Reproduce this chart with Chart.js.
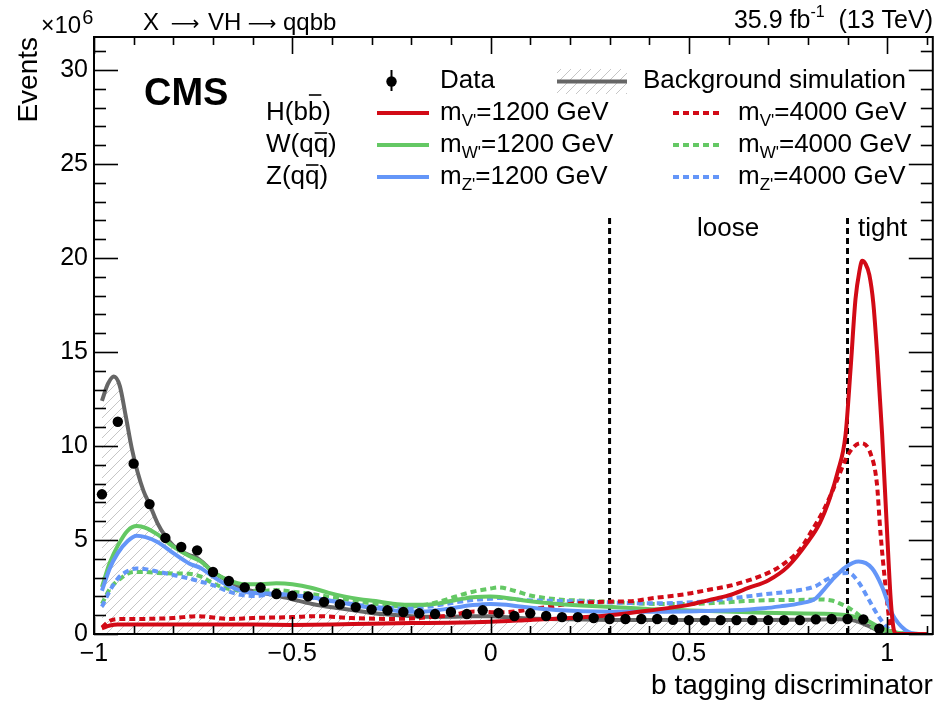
<!DOCTYPE html>
<html><head><meta charset="utf-8">
<script src="https://cdn.jsdelivr.net/npm/chart.js@4.4.0/dist/chart.umd.min.js"></script>
<style>html,body{margin:0;padding:0;background:#fff;overflow:hidden}</style>
</head><body>
<canvas id="c" width="938" height="701"></canvas>
<script>
const F = '"Liberation Sans", Arial, Helvetica, sans-serif';
const FA = '"DejaVu Sans", sans-serif';

// ---- Data (observed events, x = bin centres) ----
const dataX = [-0.98,-0.94,-0.90,-0.86,-0.82,-0.78,-0.74,-0.70,-0.66,-0.62,-0.58,-0.54,-0.50,-0.46,-0.42,-0.38,-0.34,-0.30,-0.26,-0.22,-0.18,-0.14,-0.10,-0.06,-0.02,0.02,0.06,0.10,0.14,0.18,0.22,0.26,0.30,0.34,0.38,0.42,0.46,0.50,0.54,0.58,0.62,0.66,0.70,0.74,0.78,0.82,0.86,0.90,0.94,0.98];
const dataY = [7.43,11.29,9.06,6.91,5.11,4.63,4.45,3.30,2.82,2.48,2.47,2.13,2.04,2.00,1.71,1.58,1.43,1.31,1.26,1.17,1.10,1.06,1.17,1.06,1.26,1.12,0.96,1.10,0.96,0.90,0.90,0.85,0.80,0.80,0.80,0.80,0.76,0.74,0.73,0.74,0.74,0.74,0.74,0.74,0.74,0.78,0.80,0.80,0.78,0.28];

// ---- Background simulation ----
const bkgX = [-0.98,-0.965,-0.95,-0.935,-0.92,-0.905,-0.89,-0.875,-0.86,-0.84,-0.82,-0.80,-0.78,-0.76,-0.74,-0.72,-0.70,-0.66,-0.62,-0.58,-0.54,-0.50,-0.45,-0.40,-0.35,-0.30,-0.25,-0.20,-0.15,-0.10,-0.05,0.0,0.05,0.10,0.20,0.30,0.40,0.50,0.60,0.70,0.80,0.88,0.92,0.95,0.98,1.00,1.05];
const bkgY = [12.4,13.3,13.7,13.2,11.6,9.9,8.6,7.6,6.9,5.9,5.2,4.7,4.4,4.2,4.05,3.7,3.3,2.8,2.4,2.2,2.05,1.85,1.6,1.42,1.28,1.12,1.02,0.95,0.92,0.92,0.95,0.95,0.88,0.82,0.78,0.75,0.74,0.74,0.74,0.74,0.76,0.78,0.7,0.45,0.15,0.02,0];

// ---- H(bb) signals ----
const hb1200X = [-0.98,-0.96,-0.94,-0.9,-0.8,-0.7,-0.6,-0.5,-0.4,-0.3,-0.2,-0.1,0.0,0.1,0.2,0.3,0.4,0.5,0.55,0.6,0.65,0.7,0.75,0.8,0.83,0.855,0.875,0.895,0.908,0.92,0.93,0.937,0.945,0.955,0.965,0.975,0.987,1.0,1.009,1.017,1.025,1.1];
const hb1200Y = [0.3,0.45,0.5,0.5,0.5,0.5,0.5,0.48,0.5,0.55,0.58,0.6,0.65,0.75,0.85,1.0,1.25,1.55,1.8,2.05,2.45,2.85,3.6,4.9,5.9,7.2,8.6,10.6,14.2,17.8,19.3,19.85,19.7,19.1,17.6,14.8,10.7,5.3,1.8,0.2,0,0];
const hb4000X = [-0.98,-0.96,-0.93,-0.9,-0.8,-0.74,-0.66,-0.6,-0.5,-0.44,-0.35,-0.25,-0.15,-0.1,-0.04,0.02,0.06,0.12,0.2,0.3,0.35,0.4,0.5,0.55,0.6,0.65,0.7,0.73,0.78,0.81,0.84,0.87,0.903,0.933,0.958,0.974,0.983,0.995,1.008,1.02,1.1];
const hb4000Y = [0.35,0.7,0.8,0.8,0.85,0.95,0.8,0.85,0.9,0.95,0.85,0.8,0.9,1.0,1.2,1.15,1.2,1.37,1.6,1.72,1.74,1.88,2.15,2.35,2.55,2.85,3.25,3.6,4.5,5.5,6.6,8.0,9.6,10.15,9.6,8.0,5.4,2.7,0.4,0,0];

// ---- W(qq) signals ----
const wq1200X = [-0.98,-0.96,-0.94,-0.915,-0.892,-0.87,-0.84,-0.80,-0.76,-0.73,-0.70,-0.66,-0.62,-0.58,-0.54,-0.50,-0.45,-0.41,-0.37,-0.33,-0.29,-0.25,-0.21,-0.17,-0.13,-0.09,-0.045,0.0,0.04,0.08,0.17,0.3,0.42,0.53,0.69,0.86,0.9,0.946,0.987,1.03,1.1];
const wq1200Y = [2.5,3.8,4.7,5.5,5.74,5.65,5.3,4.65,4.15,3.85,3.3,2.85,2.65,2.65,2.7,2.65,2.45,2.2,2.0,1.85,1.75,1.62,1.55,1.55,1.63,1.8,1.95,2.0,1.92,1.8,1.6,1.45,1.31,1.24,1.13,1.06,1.0,0.74,0.3,0.05,0];
const wq4000X = [-0.98,-0.96,-0.93,-0.9,-0.87,-0.84,-0.80,-0.76,-0.73,-0.70,-0.67,-0.62,-0.58,-0.54,-0.50,-0.46,-0.42,-0.38,-0.34,-0.30,-0.25,-0.21,-0.17,-0.13,-0.09,-0.045,0.0,0.02,0.06,0.1,0.17,0.25,0.33,0.42,0.5,0.58,0.66,0.74,0.8,0.83,0.86,0.88,0.91,0.94,0.96,0.99,1.02,1.1];
const wq4000Y = [1.6,2.4,3.0,3.3,3.3,3.25,3.22,3.2,3.05,2.7,2.45,2.3,2.3,2.34,2.25,2.15,2.02,1.9,1.75,1.63,1.52,1.45,1.54,1.72,1.98,2.25,2.42,2.48,2.3,2.05,1.84,1.76,1.67,1.6,1.6,1.67,1.77,1.81,1.82,1.84,1.78,1.63,1.3,0.8,0.42,0.08,0,0];

// ---- Z(qq) signals ----
const zq1200X = [-0.98,-0.96,-0.94,-0.915,-0.892,-0.87,-0.84,-0.80,-0.76,-0.73,-0.70,-0.66,-0.62,-0.58,-0.54,-0.50,-0.46,-0.41,-0.37,-0.33,-0.29,-0.25,-0.21,-0.17,-0.13,-0.09,-0.045,0.0,0.04,0.08,0.165,0.3,0.42,0.53,0.61,0.69,0.73,0.78,0.82,0.84,0.861,0.895,0.928,0.962,0.987,1.012,1.046,1.08,1.1];
const zq1200Y = [2.3,3.5,4.3,4.95,5.23,5.15,4.9,4.3,3.75,3.5,3.05,2.55,2.25,2.16,2.14,2.07,1.98,1.8,1.65,1.49,1.37,1.27,1.19,1.2,1.28,1.4,1.54,1.6,1.55,1.45,1.28,1.19,1.19,1.22,1.26,1.37,1.47,1.63,1.9,2.35,2.87,3.55,3.85,3.49,2.52,1.1,0.21,0,0];
const zq4000X = [-0.98,-0.96,-0.94,-0.915,-0.892,-0.87,-0.84,-0.80,-0.76,-0.73,-0.70,-0.67,-0.63,-0.59,-0.55,-0.50,-0.46,-0.42,-0.38,-0.34,-0.30,-0.25,-0.21,-0.17,-0.13,-0.09,-0.045,0.0,0.02,0.08,0.165,0.25,0.33,0.42,0.53,0.61,0.69,0.78,0.82,0.845,0.878,0.903,0.928,0.953,0.978,1.003,1.03,1.1];
const zq4000Y = [1.45,2.3,2.95,3.35,3.49,3.45,3.32,3.14,2.95,2.78,2.6,2.34,2.08,2.02,2.12,2.05,1.97,1.8,1.7,1.57,1.45,1.38,1.37,1.42,1.54,1.68,1.81,1.88,1.92,1.81,1.76,1.72,1.66,1.63,1.72,1.9,2.11,2.34,2.55,2.87,3.2,3.25,2.75,1.85,0.95,0.28,0.05,0];

// ---- Working-point cuts ----
const cutValues = [0.3, 0.9];
const cutTop = 22.2;

// ---- Axis ticks ----
const xMajorTicks = [-1, -0.5, 0, 0.5, 1];
const yMajorTicks = [0, 5, 10, 15, 20, 25, 30];

const RED = '#d20a16', GREEN = '#64c864', BLUE = '#6496f8', GRAY = '#666666';

const pts = (xs, ys) => xs.map((x, i) => ({x, y: ys[i]}));

const canvas = document.getElementById('c');
const ctx = canvas.getContext('2d');

// hatch pattern for the background simulation
const hatch = (() => {
  const tc = document.createElement('canvas'); tc.width = 10; tc.height = 10;
  const g = tc.getContext('2d');
  g.strokeStyle = '#c6c6c6'; g.lineWidth = 1;
  g.beginPath();
  g.moveTo(0, 10); g.lineTo(10, 0);
  g.moveTo(-1, 1); g.lineTo(1, -1);
  g.moveTo(9, 11); g.lineTo(11, 9);
  g.stroke();
  return ctx.createPattern(tc, 'repeat');
})();

const lineDs = (label, xs, ys, color, dashed, order) => ({
  label, data: pts(xs, ys), borderColor: color, borderWidth: 4, pointRadius: 0,
  borderDash: dashed ? [6, 4] : [], fill: false, cubicInterpolationMode: 'monotone', order
});

const datasets = [
  { label: 'Data', data: pts(dataX, dataY), showLine: false, pointRadius: 5.2, pointHoverRadius: 5.2,
    pointBackgroundColor: '#000', pointBorderColor: '#000', pointBorderWidth: 0, order: 0 },
  lineDs("H 1200", hb1200X, hb1200Y, RED, false, 1),
  lineDs("Z 1200", zq1200X, zq1200Y, BLUE, false, 2),
  lineDs("W 1200", wq1200X, wq1200Y, GREEN, false, 3),
  lineDs("H 4000", hb4000X, hb4000Y, RED, true, 4),
  lineDs("Z 4000", zq4000X, zq4000Y, BLUE, true, 5),
  lineDs("W 4000", wq4000X, wq4000Y, GREEN, true, 6),
  ...cutValues.map(c => ({ label: 'cut', data: [{x: c, y: 0}, {x: c, y: cutTop}], borderColor: '#000',
    borderWidth: 3, borderDash: [6, 4], pointRadius: 0, fill: false, order: 7 })),
  { label: 'Background simulation', data: pts(bkgX, bkgY), borderColor: GRAY, borderWidth: 4,
    backgroundColor: hatch, fill: 'origin', pointRadius: 0, cubicInterpolationMode: 'monotone', order: 8 }
];

const fmt = v => (v < 0 ? '\u2212' + Math.abs(v) : String(v));

function seg(c, x1, y1, x2, y2) { c.beginPath(); c.moveTo(x1, y1); c.lineTo(x2, y2); c.stroke(); }

const rootAxes = {
  id: 'rootAxes',
  afterDatasetsDraw(chart) {
    const {ctx: c, chartArea: a, scales: {x, y}} = chart;
    c.save();
    c.strokeStyle = '#000';
    c.lineWidth = 2;
    c.strokeRect(a.left, a.top, a.right - a.left, a.bottom - a.top);
    c.lineWidth = 1.6;
    for (let i = 0; i <= 21; i++) {
      const v = -1 + i * 0.1;
      const px = Math.round(x.getPixelForValue(v)) + 0.5;
      const major = xMajorTicks.some(m => Math.abs(m - v) < 1e-6);
      const L = major ? 17 : 8;
      seg(c, px, a.bottom, px, a.bottom - L);
      seg(c, px, a.top, px, a.top + L);
    }
    for (let v = 0; v <= 31; v++) {
      const py = Math.round(y.getPixelForValue(v)) + 0.5;
      const L = yMajorTicks.includes(v) ? 24 : 12;
      seg(c, a.left, py, a.left + L, py);
      seg(c, a.right, py, a.right - L, py);
    }
    c.restore();
  }
};

function t(c, s, x, y, size, opts = {}) {
  c.font = (opts.bold ? 'bold ' : '') + size + 'px ' + (opts.family || F);
  c.textAlign = opts.align || 'left';
  c.textBaseline = 'alphabetic';
  c.fillStyle = '#000';
  c.fillText(s, x, y);
  return c.measureText(s).width;
}

const LS = 26;
function mLabel(c, x, base, sub, rest) {
  let w = t(c, 'm', x, base, LS);
  w += t(c, sub, x + w, base + 6, 17);
  t(c, rest, x + w, base, LS);
}

function barLabel(c, x, base, pre, barred, post, ascender) {
  let w = t(c, pre, x, base, LS);
  const wb = t(c, barred, x + w, base, LS);
  c.strokeStyle = '#000'; c.lineWidth = 1.6;
  const yb = base - (ascender ? 25 : 19);
  seg(c, x + w + 1, yb, x + w + wb - 1, yb);
  t(c, post, x + w + wb, base, LS);
}

const annotations = {
  id: 'annotations',
  afterDraw(chart) {
    const c = chart.ctx;
    c.save();
    // header left
    let w = t(c, '\u00d7', 41, 33, 23);
    w += t(c, '10', 41 + w, 33, 24);
    t(c, '6', 41 + w + 1, 24, 20);
    t(c, 'X', 143, 30, 24);
    t(c, '\u27f6', 185, 30, 20, {family: FA, align: 'center'});
    t(c, 'VH', 208, 30, 24);
    t(c, '\u27f6', 262, 30, 20, {family: FA, align: 'center'});
    t(c, 'qqbb', 283, 30, 24);
    // right header, right aligned
    c.font = '25px ' + F; const wR = c.measureText('  (13 TeV)').width;
    c.font = '16px ' + F; const wS = c.measureText('-1').width;
    c.font = '25px ' + F; const wL = c.measureText('35.9 fb').width;
    const x0 = 933 - wR - wS - wL;
    t(c, '35.9 fb', x0, 28, 25);
    t(c, '-1', x0 + wL, 17, 16);
    t(c, '  (13 TeV)', x0 + wL + wS, 28, 25);
    // CMS
    t(c, 'CMS', 144, 105, 38, {bold: true});
    // legend row 1
    c.fillStyle = '#000';
    c.beginPath(); c.arc(391.5, 81.5, 5.2, 0, Math.PI * 2); c.fill();
    c.strokeStyle = '#000'; c.lineWidth = 2; seg(c, 391.5, 70, 391.5, 91);
    t(c, 'Data', 440, 88, LS);
    c.fillStyle = hatch; c.fillRect(557, 69, 70, 25);
    c.strokeStyle = GRAY; c.lineWidth = 4; seg(c, 557, 81.5, 627, 81.5);
    t(c, 'Background simulation', 643, 88, LS);
    // rows 2-4
    const rows = [
      {pre: 'H(b', bar: 'b', post: ')', asc: true, color: RED, sub: "V'", base: 120, ly: 113},
      {pre: 'W(q', bar: 'q', post: ')', asc: false, color: GREEN, sub: "W'", base: 152, ly: 145},
      {pre: 'Z(q', bar: 'q', post: ')', asc: false, color: BLUE, sub: "Z'", base: 184, ly: 177}
    ];
    rows.forEach(r => {
      barLabel(c, 266, r.base, r.pre, r.bar, r.post, r.asc);
      c.strokeStyle = r.color; c.lineWidth = 4; c.setLineDash([]);
      seg(c, 377, r.ly, 429, r.ly);
      mLabel(c, 440, r.base, r.sub, '=1200 GeV');
      c.setLineDash([6, 4]);
      seg(c, 673, r.ly, 721, r.ly);
      c.setLineDash([]);
      mLabel(c, 738, r.base, r.sub, '=4000 GeV');
    });
    // working points
    t(c, 'loose', 697, 236, LS);
    t(c, 'tight', 858, 236, LS);
    c.restore();
  }
};

new Chart(ctx, {
  type: 'line',
  data: { datasets },
  options: {
    responsive: false, animation: false, devicePixelRatio: 1,
    layout: { padding: { top: 37, right: 4, left: 0, bottom: 0 } },
    plugins: { legend: { display: false }, tooltip: { enabled: false } },
    elements: { line: { borderCapStyle: 'butt' } },
    scales: {
      x: {
        type: 'linear', min: -1, max: 1.115,
        grid: { display: false, drawTicks: false }, border: { display: false },
        ticks: { stepSize: 0.5, includeBounds: false, autoSkip: false, maxRotation: 0,
          color: '#000', font: { family: F, size: 25, lineHeight: 1.2 }, padding: 5,
          callback: v => fmt(v) },
        title: { display: true, text: 'b tagging discriminator', align: 'end', color: '#000',
          font: { family: F, size: 28, lineHeight: 1 }, padding: { top: 0, bottom: 0.5 } },
        afterFit: s => { s.height = 67; }
      },
      y: {
        type: 'linear', min: 0, max: 31.755,
        grid: { display: false, drawTicks: false }, border: { display: false },
        ticks: { stepSize: 5, includeBounds: false, color: '#000',
          font: { family: F, size: 25, lineHeight: 1.2 }, padding: 6 },
        title: { display: true, text: 'Events', align: 'end', color: '#000',
          font: { family: F, size: 28, lineHeight: 1 }, padding: { top: 15.5, bottom: 0 } },
        afterFit: s => { s.width = 94; }
      }
    }
  },
  plugins: [rootAxes, annotations]
});
</script>
</body></html>
